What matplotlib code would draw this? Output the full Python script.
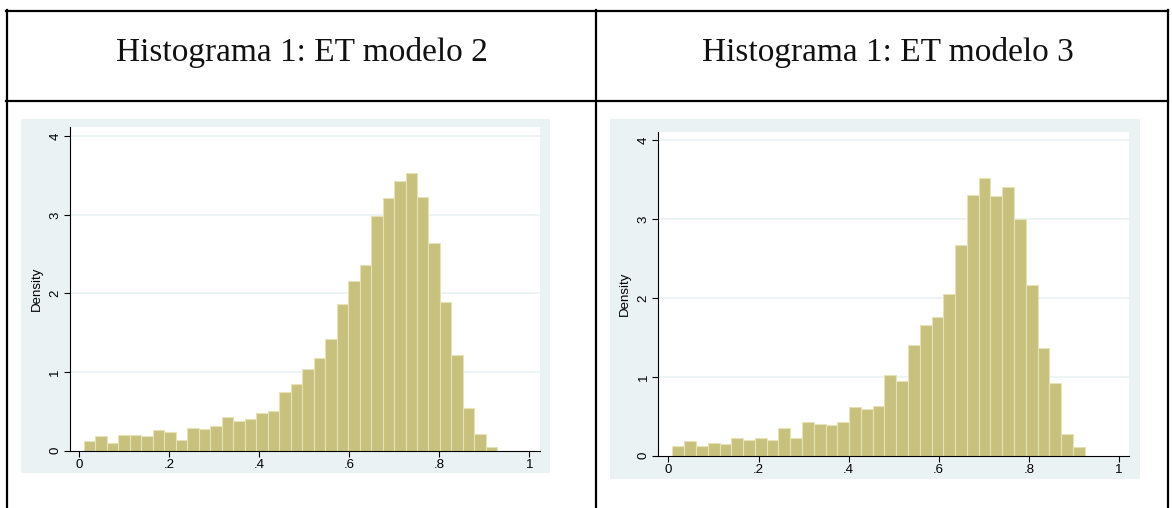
import numpy as np
import matplotlib
matplotlib.use('Agg')
from matplotlib import pyplot as plt
from matplotlib.patches import Rectangle
from matplotlib.lines import Line2D

W, H = 1172, 508

titles = ['Histograma 1: ET modelo 2', 'Histograma 1: ET modelo 3']

# bar heights (density)
dens_m2 = [0.115, 0.18, 0.10, 0.20, 0.20, 0.19, 0.255, 0.235, 0.135, 0.285,
           0.27, 0.31, 0.43, 0.38, 0.395, 0.48, 0.50, 0.75, 0.845, 1.04,
           1.18, 1.425, 1.86, 2.165, 2.365, 2.99, 3.21, 3.435, 3.54, 3.23,
           2.64, 1.895, 1.215, 0.54, 0.21, 0.05]
dens_m3 = [0.127, 0.18, 0.118, 0.16, 0.148, 0.22, 0.20, 0.22, 0.20, 0.354,
           0.228, 0.426, 0.405, 0.384, 0.426, 0.612, 0.59, 0.633, 1.017, 0.945,
           1.407, 1.653, 1.758, 2.05, 2.665, 3.30, 3.517, 3.292, 3.40, 3.0,
           2.157, 1.369, 0.915, 0.28, 0.114]
bin_start = [0.0104, 0.009]
bin_width = [0.02552, 0.02614]

x_ticks = [0, 0.2, 0.4, 0.6, 0.8, 1]
x_labels = ['0', '.2', '.4', '.6', '.8', '1']
y_ticks = [0, 1, 2, 3, 4]
y_labels = ['0', '1', '2', '3', '4']

bar_color = '#C8C17D'
edge_color = '#E6E2B8'
bg_color = '#EAF2F3'

# pixel boxes: (left, top, right, bottom) for grey region and plot region
grey_boxes = [(21, 119, 550, 473), (610, 119, 1139.5, 479)]
plot_boxes = [(70, 127, 540, 450.5), (658.3, 131.7, 1129.3, 455.7)]
xlims = [(-0.0207, 1.0238), (-0.0224, 1.023)]
ylims = [(0, 4.12), (0, 4.106)]
title_x = [302, 888]


def fx(x):
    return x / W


def fy(y):
    return 1 - y / H


fig = plt.figure(figsize=(W / 100, H / 100), dpi=100)

# table borders
lw = 1.6
for y in (11, 101):
    fig.add_artist(Line2D([fx(6), fx(1168)], [fy(y), fy(y)], color='black', lw=lw))
for x in (6.5, 596, 1167.5):
    fig.add_artist(Line2D([fx(x), fx(x)], [fy(10.2), fy(H)], color='black', lw=lw))

for i, dens in enumerate([dens_m2, dens_m3]):
    fig.text(fx(title_x[i]), fy(52), titles[i], ha='center', va='center',
             fontsize=24, family='Liberation Serif', color='#111111')

    gl, gt, gr, gb = grey_boxes[i]
    fig.add_artist(Rectangle((fx(gl), fy(gb)), fx(gr - gl), (gb - gt) / H,
                             transform=fig.transFigure, facecolor=bg_color,
                             edgecolor='none', zorder=0))

    pl, pt, pr, pb = plot_boxes[i]
    ax = fig.add_axes([fx(pl), fy(pb), fx(pr - pl), (pb - pt) / H])
    ax.set_facecolor('white')

    edges = bin_start[i] + bin_width[i] * np.arange(len(dens))
    ax.bar(edges, dens, width=bin_width[i], align='edge', color=bar_color,
           edgecolor=edge_color, linewidth=0.8, zorder=2)

    ax.set_xlim(*xlims[i])
    ax.set_ylim(*ylims[i])
    for v in y_ticks[1:]:
        ax.axhline(v, color=bg_color, lw=1.2, zorder=1)

    for s in ('top', 'right'):
        ax.spines[s].set_visible(False)
    for s in ('left', 'bottom'):
        ax.spines[s].set_color('black')
        ax.spines[s].set_linewidth(0.8)
        ax.spines[s].set_zorder(3)

    ax.set_xticks(x_ticks)
    ax.set_xticklabels(x_labels, family='Liberation Sans', fontsize=9.5)
    ax.set_yticks(y_ticks)
    ax.set_yticklabels(y_labels, family='Liberation Sans', fontsize=9.5,
                       rotation=90, va='center')
    ax.tick_params(direction='out', length=4.2, width=0.8, color='black', pad=2)
    ax.set_ylabel('Density', family='Liberation Sans', fontsize=9.5, labelpad=5)

fig.savefig('out.png', dpi=100)
